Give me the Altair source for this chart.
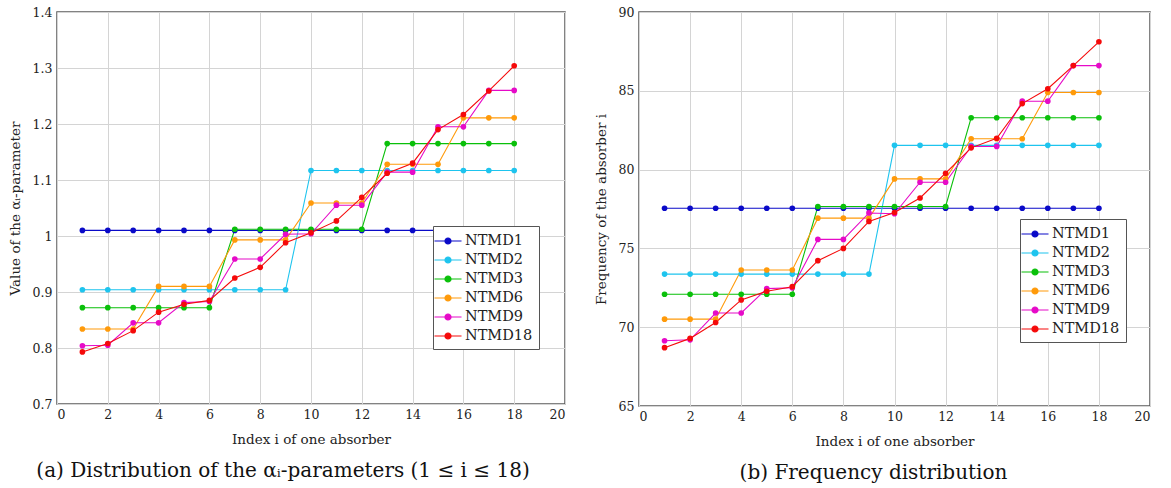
import altair as alt
import pandas as pd

idx = [1, 2, 3, 4, 5, 6, 7, 8, 9, 10, 11, 12, 13, 14, 15, 16, 17, 18]
names = ["NTMD1", "NTMD2", "NTMD3", "NTMD6", "NTMD9", "NTMD18"]
colors = ["#0a0ac8", "#1ec4ee", "#0ac00a", "#ff9a0a", "#e60ac8", "#f50a0a"]

alpha_ntmd1 = [1.010, 1.010, 1.010, 1.010, 1.010, 1.010, 1.010, 1.010, 1.010, 1.010, 1.010, 1.010, 1.010, 1.010, 1.010, 1.010, 1.010, 1.010]
alpha_ntmd2 = [0.904, 0.904, 0.904, 0.904, 0.904, 0.904, 0.904, 0.904, 0.904, 1.117, 1.117, 1.117, 1.117, 1.117, 1.117, 1.117, 1.117, 1.117]
alpha_ntmd3 = [0.872, 0.872, 0.872, 0.872, 0.872, 0.872, 1.012, 1.012, 1.012, 1.012, 1.012, 1.012, 1.165, 1.165, 1.165, 1.165, 1.165, 1.165]
alpha_ntmd6 = [0.834, 0.834, 0.834, 0.910, 0.910, 0.910, 0.993, 0.993, 0.993, 1.059, 1.059, 1.059, 1.128, 1.128, 1.128, 1.211, 1.211, 1.211]
alpha_ntmd9 = [0.804, 0.805, 0.845, 0.845, 0.881, 0.883, 0.959, 0.959, 1.003, 1.004, 1.055, 1.055, 1.114, 1.114, 1.195, 1.195, 1.260, 1.260]
alpha_ntmd18 = [0.793, 0.808, 0.831, 0.864, 0.878, 0.885, 0.925, 0.944, 0.988, 1.006, 1.027, 1.069, 1.112, 1.130, 1.190, 1.217, 1.259, 1.304]

freq_ntmd1 = [77.55, 77.55, 77.55, 77.55, 77.55, 77.55, 77.55, 77.55, 77.55, 77.55, 77.55, 77.55, 77.55, 77.55, 77.55, 77.55, 77.55, 77.55]
freq_ntmd2 = [73.37, 73.37, 73.37, 73.37, 73.37, 73.37, 73.37, 73.37, 73.37, 81.54, 81.54, 81.54, 81.54, 81.54, 81.54, 81.54, 81.54, 81.54]
freq_ntmd3 = [72.09, 72.09, 72.09, 72.09, 72.09, 72.09, 77.66, 77.66, 77.66, 77.66, 77.66, 77.66, 83.29, 83.29, 83.29, 83.29, 83.29, 83.29]
freq_ntmd6 = [70.51, 70.51, 70.51, 73.63, 73.63, 73.63, 76.92, 76.92, 76.92, 79.41, 79.41, 79.41, 81.96, 81.96, 81.96, 84.89, 84.89, 84.89]
freq_ntmd9 = [69.14, 69.20, 70.90, 70.90, 72.45, 72.50, 75.57, 75.57, 77.25, 77.20, 79.20, 79.20, 81.47, 81.47, 84.34, 84.34, 86.60, 86.60]
freq_ntmd18 = [68.70, 69.29, 70.30, 71.73, 72.28, 72.57, 74.22, 75.00, 76.71, 77.28, 78.20, 79.77, 81.38, 81.99, 84.19, 85.13, 86.60, 88.11]

x_ticks = [0, 2, 4, 6, 8, 10, 12, 14, 16, 18, 20]
alpha_ticks = [0.7, 0.8, 0.9, 1.0, 1.1, 1.2, 1.3, 1.4]
freq_ticks = [65, 70, 75, 80, 85, 90]

FONT = "DejaVu Serif"
LEGEND_PATH = "M-1.69,0H1.69M0.375,0A0.375,0.375,0,1,1,-0.375,0A0.375,0.375,0,1,1,0.375,0Z"


def long_frame(series):
    rows = []
    for k, (name, vals) in enumerate(zip(names, series)):
        for i, v in zip(idx, vals):
            rows.append({"i": i, "v": v, "s": name, "k": k})
    return pd.DataFrame(rows)


def panel(df, ytitle, ydomain, yticks, caption, lx, ly, dx, width, height):
    legend = alt.Legend(
        title=None, orient="none", legendX=lx, legendY=ly,
        symbolType=LEGEND_PATH, symbolSize=256, symbolStrokeWidth=1.2,
        labelFont=FONT, labelFontSize=14.5, labelColor="#222", labelOffset=8,
        rowPadding=3, padding=6, strokeColor="#555", fillColor="white",
    )
    base = alt.Chart(df).encode(
        x=alt.X("i:Q", scale=alt.Scale(domain=[0, 20], nice=False),
                axis=alt.Axis(values=x_ticks, title="Index i of one absorber", format="d",
                              labelPadding=4, titlePadding=12)),
        y=alt.Y("v:Q", scale=alt.Scale(domain=ydomain, nice=False, zero=False),
                axis=alt.Axis(values=yticks, title=ytitle, format="~g")),
    )
    lines = base.mark_line(strokeWidth=1.1).encode(
        color=alt.Color("s:N", scale=alt.Scale(domain=names, range=colors), legend=legend),
        order=alt.Order("i:Q"),
    )
    pts = base.mark_point(filled=True, size=32, opacity=1).encode(
        fill=alt.Fill("s:N", scale=alt.Scale(domain=names, range=colors), legend=legend),
        order=alt.Order("k:Q"),
    )
    return alt.layer(lines, pts).properties(
        width=width, height=height,
        title=alt.TitleParams(caption, orient="bottom", anchor="middle", frame="group",
                              dx=dx, offset=15, font=FONT, fontSize=20,
                              fontWeight="normal", color="#111"),
    )


df_a = long_frame([alpha_ntmd1, alpha_ntmd2, alpha_ntmd3, alpha_ntmd6, alpha_ntmd9, alpha_ntmd18])
df_b = long_frame([freq_ntmd1, freq_ntmd2, freq_ntmd3, freq_ntmd6, freq_ntmd9, freq_ntmd18])

left = panel(df_a, "Value of the αᵢ-parameter", [0.7, 1.4], alpha_ticks,
             "(a) Distribution of the αᵢ-parameters (1 ≤ i ≤ 18)", 376, 214, -28, 508, 392)
right = panel(df_b, "Frequency of the absorber i", [65, 90], freq_ticks,
              "(b) Frequency distribution", 381, 207, -21, 511, 394)

chart = alt.hconcat(left, right, spacing=27).resolve_scale(
    color="independent", fill="independent"
).properties(
    padding={"left": 7, "top": 5, "right": 0, "bottom": 0},
    background="white",
).configure_axis(
    labelFont=FONT, titleFont=FONT, labelFontSize=12.5, titleFontSize=13.5,
    titleFontWeight="normal", labelColor="#222", titleColor="#222",
    gridColor="#d4d4d4", gridWidth=1, domain=False, ticks=False,
    labelPadding=5, titlePadding=10,
).configure_view(
    stroke="#5a5a5a", strokeWidth=1.5
)

chart.save("out.html", embed_options={"renderer": "svg", "actions": False})
